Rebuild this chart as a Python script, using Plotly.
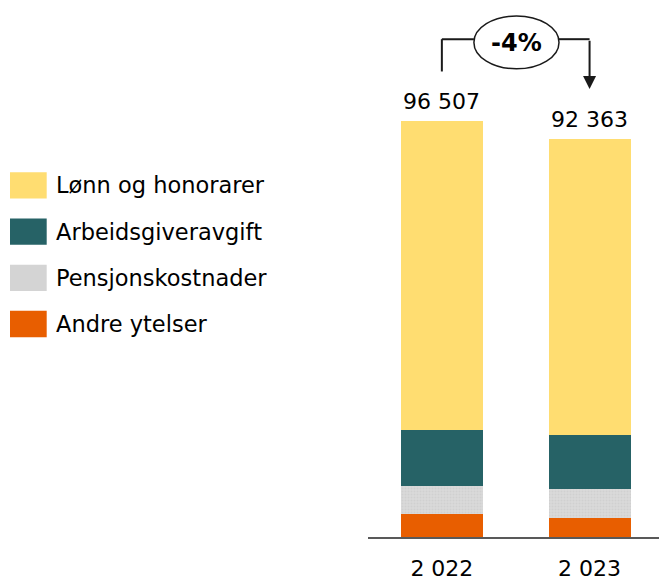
import plotly.graph_objects as go

years = ["2 022", "2 023"]
series_names = ["Andre ytelser", "Pensjonskostnader", "Arbeidsgiveravgift", "Lønn og honorarer"]
andre = [5385, 4391]
pensjon = [6540, 6771]
arbeidsgiver = [12803, 12479]
lonn = [71779, 68722]
totals = [96507, 92363]
change_label = "-4%"

colors = {
    "Andre ytelser": "#E85E00",
    "Pensjonskostnader": "#D4D4D4",
    "Arbeidsgiveravgift": "#266266",
    "Lønn og honorarer": "#FFDD71",
}
values = {
    "Andre ytelser": andre,
    "Pensjonskostnader": pensjon,
    "Arbeidsgiveravgift": arbeidsgiver,
    "Lønn og honorarer": lonn,
}

FONT = "DejaVu Sans"
fig = go.Figure()
for name in series_names:
    marker = dict(color=colors[name], line=dict(width=0))
    if name == "Pensjonskostnader":
        marker["pattern"] = dict(shape=".", fgcolor="#c6c6c6", bgcolor="#dadada", size=3, solidity=0.4)
    fig.add_trace(go.Bar(x=[0, 1], y=values[name], name=name, marker=marker,
                         showlegend=False, hoverinfo="y+name"))

def fmt(v):
    return f"{v:,}".replace(",", " ")

BASE = 539.0
TOP = 10.0
H = BASE - TOP
Ymax = H * 231.1

annotations = []
for i, t in enumerate(totals):
    annotations.append(dict(x=i, y=t, xref="x", yref="y", text=fmt(t), showarrow=False,
                            yanchor="middle", yshift=19, font=dict(family=FONT, size=22, color="#000")))

def yv(px):
    return (BASE - px) / H * Ymax

bracket_y = yv(39.3)
shapes = []
shapes.append(dict(type="line", xref="x", yref="y", x0=0, x1=0, y0=yv(71.7), y1=bracket_y,
                   line=dict(color="#1a1a1a", width=2)))
shapes.append(dict(type="line", xref="x", yref="y", x0=0, x1=0.217, y0=bracket_y, y1=bracket_y,
                   line=dict(color="#1a1a1a", width=2)))
shapes.append(dict(type="line", xref="x", yref="y", x0=0.793, x1=1, y0=bracket_y, y1=bracket_y,
                   line=dict(color="#1a1a1a", width=2)))
shapes.append(dict(type="circle", xref="x", yref="y", x0=0.217, x1=0.793, y0=yv(69), y1=yv(16),
                   line=dict(color="#1a1a1a", width=1.5), fillcolor="white"))
annotations.append(dict(x=1, y=yv(89.3), ax=1, ay=bracket_y, xref="x", yref="y", axref="x", ayref="y",
                        text="", showarrow=True, arrowhead=2, arrowsize=1.3, arrowwidth=2,
                        arrowcolor="#1a1a1a"))
annotations.append(dict(x=0.505, y=yv(42.7), xref="x", yref="y", text="<b>" + change_label + "</b>",
                        showarrow=False, font=dict(family=FONT, size=24, color="#000")))

# Manual legend (top to bottom)
L, R = 368.0, 659.0
W = R - L
def px_x(px):
    return (px - L) / W
def px_y(py):
    return (BASE - py) / H

legend_order = ["Lønn og honorarer", "Arbeidsgiveravgift", "Pensjonskostnader", "Andre ytelser"]
for k, name in enumerate(legend_order):
    cy = 186 + k * 46.4
    sh = dict(type="rect", xref="paper", yref="paper", x0=px_x(10), x1=px_x(46.7),
              y0=px_y(cy + 13.2), y1=px_y(cy - 13.2), line=dict(width=0), fillcolor=colors[name])
    shapes.append(sh)
    annotations.append(dict(x=px_x(54), y=px_y(cy), xref="paper", yref="paper", text=name,
                            showarrow=False, xanchor="left", yanchor="middle",
                            font=dict(family=FONT, size=22.5, color="#000")))

fig.update_layout(
    width=659, height=581,
    margin=dict(l=368, r=0, t=int(TOP), b=int(581 - BASE)),
    barmode="stack", bargap=0.445,
    plot_bgcolor="white", paper_bgcolor="white",
    shapes=shapes, annotations=annotations,
    font=dict(family=FONT, size=22, color="#000"),
    xaxis=dict(range=[-0.5, 1.47], tickmode="array", tickvals=[0, 1], ticktext=years,
               showgrid=False, zeroline=False, showline=True, linecolor="#595959", linewidth=1.5,
               ticks="", ticklabelstandoff=11, tickfont=dict(family=FONT, size=22, color="#000")),
    yaxis=dict(range=[0, Ymax], visible=False, showgrid=False, zeroline=False),
)

fig.write_html("out.html", config={"displayModeBar": False},
               post_script="document.body.style.margin='0';document.body.style.overflow='hidden';")
